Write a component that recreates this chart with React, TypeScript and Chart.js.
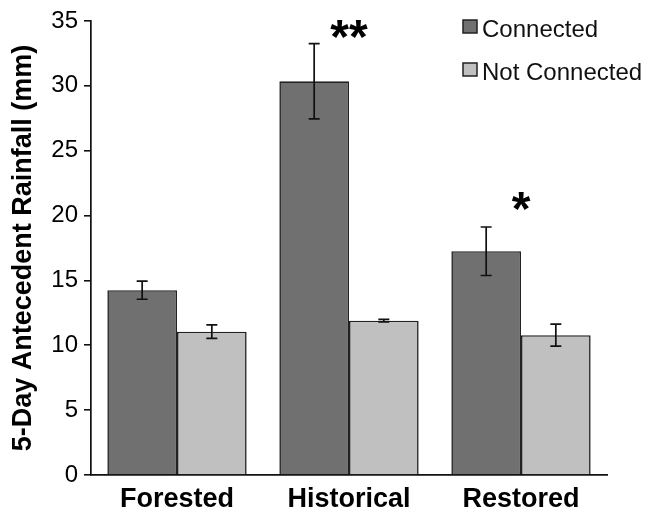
import React, { useEffect, useRef } from "react";
import { Chart, registerables } from "chart.js";

Chart.register(...registerables);

const categories = ["Forested", "Historical", "Restored"];
const seriesNames = ["Connected", "Not Connected"];
const connected = [14.25, 30.35, 17.25];
const connectedErr = [0.7, 2.9, 1.87];
const notConnected = [11.05, 11.9, 10.78];
const notConnectedErr = [0.52, 0.1, 0.85];
const significance = ["", "**", "*"];
const significanceY = [0, 34.4, 21.1];
const yTicks = [0, 5, 10, 15, 20, 25, 30, 35];

const DARK = "#707070";
const LIGHT = "#c0c0c0";
const EDGE = "#222";
const FONT = "'Liberation Sans', Arial, Helvetica, sans-serif";

const errorBarPlugin = {
  id: "errorBars",
  afterDatasetsDraw(chart: any) {
    const ctx = chart.ctx;
    const y = chart.scales.y;
    const errs = [connectedErr, notConnectedErr];
    const vals = [connected, notConnected];
    ctx.save();
    ctx.strokeStyle = "#111";
    ctx.lineWidth = 1.7;
    chart.data.datasets.forEach((_: any, di: number) => {
      const meta = chart.getDatasetMeta(di);
      meta.data.forEach((bar: any, i: number) => {
        const v = vals[di][i];
        const e = errs[di][i];
        const yt = y.getPixelForValue(v + e);
        const yb = y.getPixelForValue(v - e);
        const x = bar.x;
        const cap = 5.5;
        ctx.beginPath();
        ctx.moveTo(x, yt);
        ctx.lineTo(x, yb);
        ctx.moveTo(x - cap, yt);
        ctx.lineTo(x + cap, yt);
        ctx.moveTo(x - cap, yb);
        ctx.lineTo(x + cap, yb);
        ctx.stroke();
      });
    });
    // significance stars
    ctx.fillStyle = "#000";
    ctx.font = `bold 48px ${FONT}`;
    ctx.textAlign = "center";
    ctx.textBaseline = "alphabetic";
    significance.forEach((s, i) => {
      if (!s) return;
      const m = ctx.measureText(s);
      const cx = chart.scales.x.getPixelForValue(i);
      const cy = y.getPixelForValue(significanceY[i]);
      const asc = m.actualBoundingBoxAscent;
      const desc = m.actualBoundingBoxDescent;
      const base = cy + (asc - desc) / 2;
      ctx.fillText(s, cx, base);
    });
    ctx.restore();
  },
  afterDraw(chart: any) {
    const ctx = chart.ctx;
    const area = chart.chartArea;
    const colors = [DARK, LIGHT];
    ctx.save();
    ctx.font = `24px ${FONT}`;
    ctx.textAlign = "left";
    ctx.textBaseline = "alphabetic";
    seriesNames.forEach((name, i) => {
      const bx = area.right - 144;
      const by = area.top - 1 + i * 43;
      ctx.fillStyle = colors[i];
      ctx.fillRect(bx, by, 14, 13);
      ctx.strokeStyle = EDGE;
      ctx.lineWidth = 1.5;
      ctx.strokeRect(bx, by, 14, 13);
      ctx.fillStyle = "#111";
      ctx.fillText(name, bx + 19, by + 16.5);
    });
    ctx.restore();
  },
};

export default function App() {
  const ref = useRef<HTMLCanvasElement | null>(null);
  useEffect(() => {
    if (!ref.current) return;
    const chart = new Chart(ref.current, {
      type: "bar",
      data: {
        labels: categories,
        datasets: [
          {
            label: seriesNames[0],
            data: connected,
            backgroundColor: DARK,
            borderColor: EDGE,
            borderWidth: 1.6,
            categoryPercentage: 0.81,
            barPercentage: 1.0,
          },
          {
            label: seriesNames[1],
            data: notConnected,
            backgroundColor: LIGHT,
            borderColor: EDGE,
            borderWidth: 1.6,
            categoryPercentage: 0.81,
            barPercentage: 1.0,
          },
        ],
      },
      options: {
        animation: false,
        responsive: true,
        maintainAspectRatio: false,
        layout: { padding: { top: 21, right: 42, left: 0, bottom: 0 } },
        plugins: {
          legend: { display: false },
          tooltip: { enabled: false },
        },
        scales: {
          x: {
            grid: { display: false },
            border: { display: true, color: "#111", width: 1.7 },
            ticks: {
              color: "#000",
              font: { family: FONT, size: 27, weight: "bold" },
              padding: 0,
            },
            afterFit: (s: any) => {
              s.height = 34;
            },
          },
          y: {
            min: 0,
            max: 35,
            afterBuildTicks: (s: any) => {
              s.ticks = yTicks.map((v) => ({ value: v }));
            },
            grid: {
              drawOnChartArea: false,
              drawTicks: true,
              tickLength: 7,
              color: "#111",
              lineWidth: 1.6,
            },
            border: { display: true, color: "#111", width: 1.7 },
            ticks: {
              color: "#000",
              font: { family: FONT, size: 24 },
              padding: 6,
            },
            title: {
              display: true,
              text: "5-Day Antecedent Rainfall (mm)",
              color: "#000",
              font: { family: FONT, size: 27, weight: "bold" },
              padding: { top: 7, bottom: 0 },
            },
            afterFit: (s: any) => {
              s.width = 91;
            },
          },
        },
      },
      plugins: [errorBarPlugin],
    });
    return () => chart.destroy();
  }, []);
  return (
    <div style={{ position: "absolute", left: 0, top: 0, width: 649, height: 509, background: "#fff" }}>
      <canvas ref={ref} />
    </div>
  );
}
